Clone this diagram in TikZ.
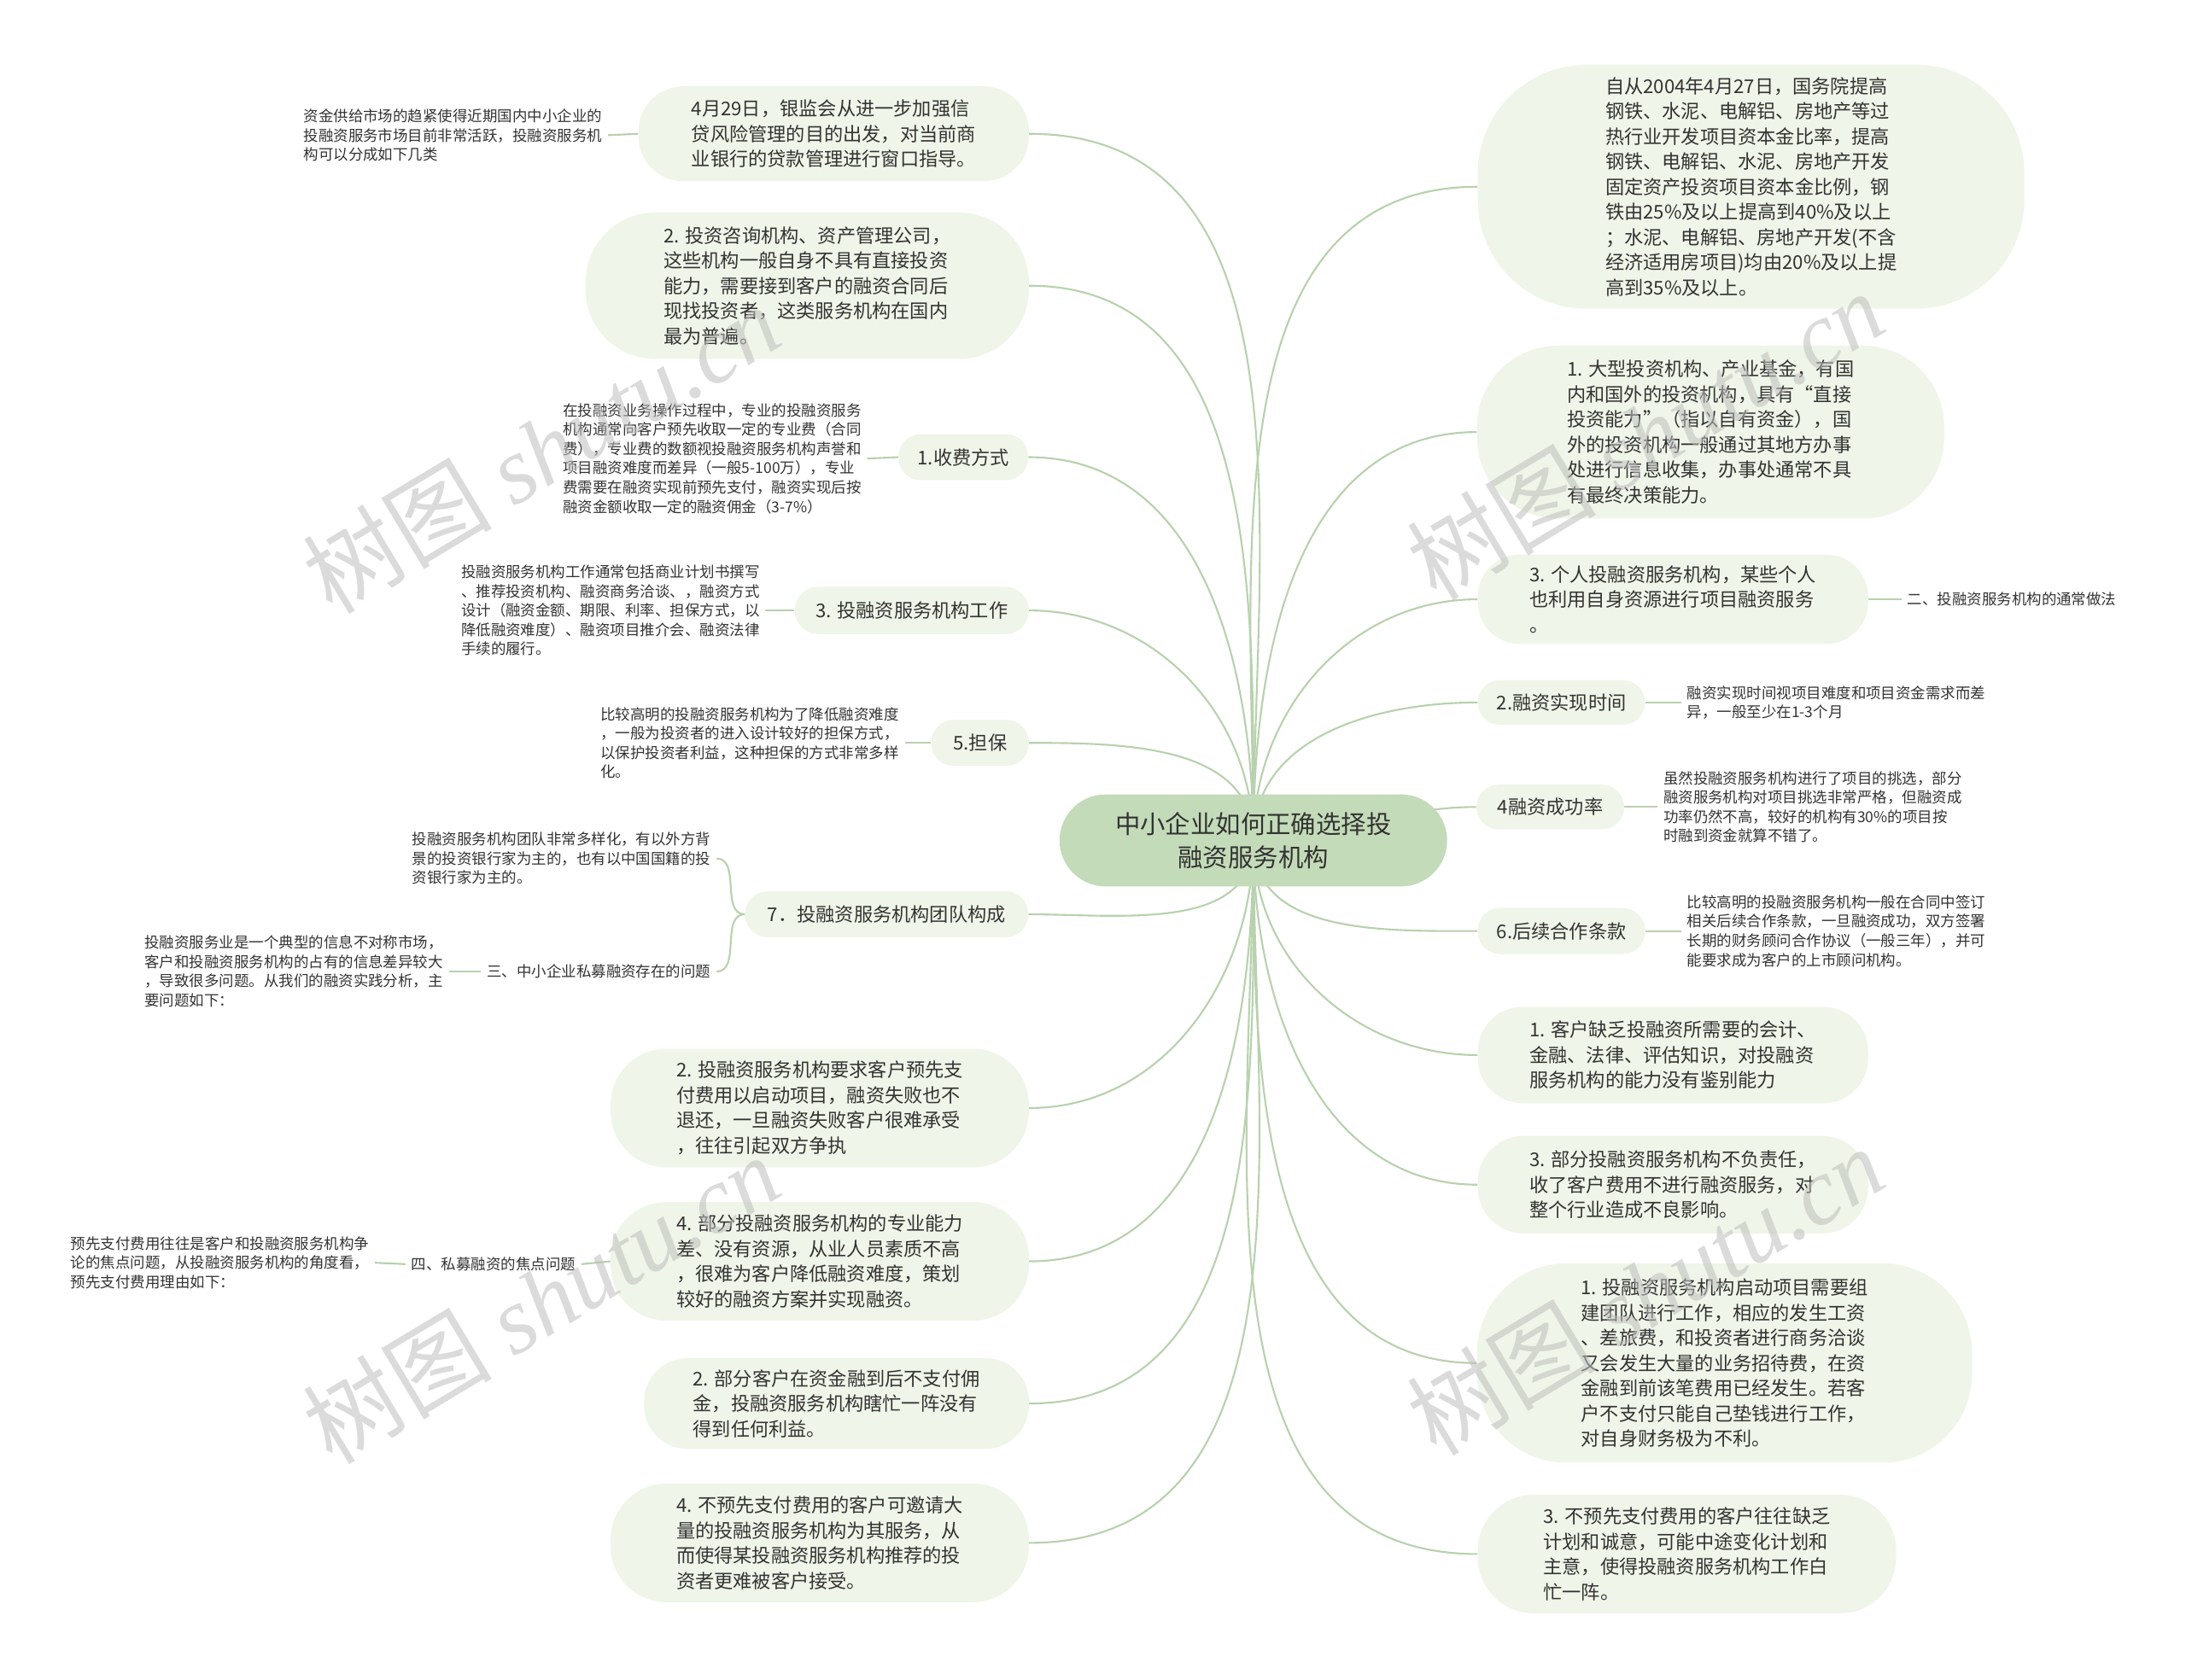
\documentclass[tikz,border=0pt]{standalone}
\usepackage{fontspec}
\setmainfont{Noto Sans CJK SC}
\newfontfamily\wmserif{Liberation Serif}
\newfontfamily\wmcjk{Noto Sans CJK SC}
\usetikzlibrary{backgrounds}
\definecolor{bubfill}{HTML}{EFF5E8}
\definecolor{ctrfill}{HTML}{C3DBB8}
\definecolor{linec}{HTML}{B8D1AE}
\definecolor{txt}{HTML}{333333}
\definecolor{wm}{HTML}{BEBEBE}
\newcommand\mainsz{\fontsize{13.6}{18.1}\selectfont}
\newcommand\smallsz{\fontsize{10.7}{13.8}\selectfont}
\newcommand\ctrsz{\fontsize{18}{24}\selectfont}
\newcommand\wmsz{\fontsize{68}{70}\selectfont}
\tikzset{
  bub/.style={fill=bubfill, align=left, font=\mainsz, text=txt, inner sep=0pt},
  ctr/.style={fill=ctrfill, align=center, font=\ctrsz, text=txt, inner sep=0pt,
    minimum width=278pt, minimum height=66pt, rounded corners=33pt},
  leaf/.style={align=left, font=\smallsz, text=txt, inner sep=4pt},
  link/.style={draw=linec, line width=1.3pt},
  wmk/.style={text=wm, opacity=0.55, rotate=31, font=\wmsz, inner sep=0pt}
}
\begin{document}
\begin{tikzpicture}[x=1pt,y=1pt]
\useasboundingbox (0,0) rectangle (1568,-1204.8);

% centre
\node[ctr] (c) at (899,-603) {中小企业如何正确选择投\\融资服务机构};

% right side
\node[bub, minimum width=392pt, minimum height=175pt, rounded corners=78pt] (r1) at (1256,-134) {自从2004年4月27日，国务院提高\\钢铁、水泥、电解铝、房地产等过\\热行业开发项目资本金比率，提高\\钢铁、电解铝、水泥、房地产开发\\固定资产投资项目资本金比例，钢\\铁由25\%及以上提高到40\%及以上\\；水泥、电解铝、房地产开发(不含\\经济适用房项目)均由20\%及以上提\\高到35\%及以上。};
\node[bub, minimum width=335pt, minimum height=124pt, rounded corners=58pt] (r2) at (1227,-310) {1. 大型投资机构、产业基金，有国\\内和国外的投资机构，具有“直接\\投资能力”（指以自有资金），国\\外的投资机构一般通过其地方办事\\处进行信息收集，办事处通常不具\\有最终决策能力。};
\node[bub, minimum width=280pt, minimum height=64pt, rounded corners=30pt] (r3) at (1200,-430) {3. 个人投融资服务机构，某些个人\\也利用自身资源进行项目融资服务\\。};
\node[bub, minimum width=120pt, minimum height=32pt, rounded corners=16pt] (r4) at (1120,-504) {2.融资实现时间};
\node[bub, minimum width=106pt, minimum height=32pt, rounded corners=16pt] (r5) at (1112,-579) {4融资成功率};
\node[bub, minimum width=120pt, minimum height=33pt, rounded corners=16pt] (r6) at (1120,-668) {6.后续合作条款};
\node[bub, minimum width=280pt, minimum height=69pt, rounded corners=32pt] (r7) at (1200,-757) {1. 客户缺乏投融资所需要的会计、\\金融、法律、评估知识，对投融资\\服务机构的能力没有鉴别能力};
\node[bub, minimum width=280pt, minimum height=70pt, rounded corners=33pt] (r8) at (1200,-850) {3. 部分投融资服务机构不负责任，\\收了客户费用不进行融资服务，对\\整个行业造成不良影响。};
\node[bub, minimum width=355pt, minimum height=143pt, rounded corners=64pt] (r9) at (1237,-978) {1. 投融资服务机构启动项目需要组\\建团队进行工作，相应的发生工资\\、差旅费，和投资者进行商务洽谈\\又会发生大量的业务招待费，在资\\金融到前该笔费用已经发生。若客\\户不支付只能自己垫钱进行工作，\\对自身财务极为不利。};
\node[bub, minimum width=300pt, minimum height=85pt, rounded corners=40pt] (r10) at (1210,-1115) {3. 不预先支付费用的客户往往缺乏\\计划和诚意，可能中途变化计划和\\主意，使得投融资服务机构工作白\\忙一阵。};

% right leaves
\node[leaf, anchor=west] (r3a) at (1364,-430) {二、投融资服务机构的通常做法};
\node[leaf, anchor=west] (r4a) at (1206,-504) {融资实现时间视项目难度和项目资金需求而差\\异，一般至少在1-3个月};
\node[leaf, anchor=west] (r5a) at (1189,-579) {虽然投融资服务机构进行了项目的挑选，部分\\融资服务机构对项目挑选非常严格，但融资成\\功率仍然不高，较好的机构有30\%的项目按\\时融到资金就算不错了。};
\node[leaf, anchor=west] (r6a) at (1206,-668) {比较高明的投融资服务机构一般在合同中签订\\相关后续合作条款，一旦融资成功，双方签署\\长期的财务顾问合作协议（一般三年），并可\\能要求成为客户的上市顾问机构。};

% left side
\node[bub, minimum width=280pt, minimum height=68pt, rounded corners=32pt] (l1) at (598,-96) {4月29日，银监会从进一步加强信\\贷风险管理的目的出发，对当前商\\业银行的贷款管理进行窗口指导。};
\node[bub, minimum width=318pt, minimum height=105pt, rounded corners=50pt] (l2) at (579,-205) {2. 投资咨询机构、资产管理公司，\\这些机构一般自身不具有直接投资\\能力，需要接到客户的融资合同后\\现找投资者，这类服务机构在国内\\最为普遍。};
\node[bub, minimum width=93pt, minimum height=33pt, rounded corners=16pt] (l3) at (691,-328) {1.收费方式};
\node[bub, minimum width=168pt, minimum height=34pt, rounded corners=17pt] (l4) at (654,-438) {3. 投融资服务机构工作};
\node[bub, minimum width=70pt, minimum height=33pt, rounded corners=16pt] (l5) at (703,-533) {5.担保};
\node[bub, minimum width=203pt, minimum height=33pt, rounded corners=16pt] (l6) at (636,-656) {7．投融资服务机构团队构成};
\node[bub, minimum width=300pt, minimum height=85pt, rounded corners=40pt] (l7) at (588,-795) {2. 投融资服务机构要求客户预先支\\付费用以启动项目，融资失败也不\\退还，一旦融资失败客户很难承受\\，往往引起双方争执};
\node[bub, minimum width=300pt, minimum height=85pt, rounded corners=40pt] (l8) at (588,-905) {4. 部分投融资服务机构的专业能力\\差、没有资源，从业人员素质不高\\，很难为客户降低融资难度，策划\\较好的融资方案并实现融资。};
\node[bub, minimum width=276pt, minimum height=65pt, rounded corners=31pt] (l9) at (600,-1007) {2. 部分客户在资金融到后不支付佣\\金，投融资服务机构瞎忙一阵没有\\得到任何利益。};
\node[bub, minimum width=300pt, minimum height=85pt, rounded corners=40pt] (l10) at (588,-1107) {4. 不预先支付费用的客户可邀请大\\量的投融资服务机构为其服务，从\\而使得某投融资服务机构推荐的投\\资者更难被客户接受。};

% left leaves
\node[leaf, anchor=east] (l1a) at (436,-97) {资金供给市场的趋紧使得近期国内中小企业的\\投融资服务市场目前非常活跃，投融资服务机\\构可以分成如下几类};
\node[leaf, anchor=east] (l3a) at (622,-329) {在投融资业务操作过程中，专业的投融资服务\\机构通常向客户预先收取一定的专业费（合同\\费），专业费的数额视投融资服务机构声誉和\\项目融资难度而差异（一般5-100万），专业\\费需要在融资实现前预先支付，融资实现后按\\融资金额收取一定的融资佣金（3-7\%）};
\node[leaf, anchor=east] (l4a) at (549,-438) {投融资服务机构工作通常包括商业计划书撰写\\、推荐投资机构、融资商务洽谈、，融资方式\\设计（融资金额、期限、利率、担保方式，以\\降低融资难度）、融资项目推介会、融资法律\\手续的履行。};
\node[leaf, anchor=east] (l5a) at (649,-533) {比较高明的投融资服务机构为了降低融资难度\\，一般为投资者的进入设计较好的担保方式，\\以保护投资者利益，这种担保的方式非常多样\\化。};
\node[leaf, anchor=east] (l6a) at (514,-616) {投融资服务机构团队非常多样化，有以外方背\\景的投资银行家为主的，也有以中国国籍的投\\资银行家为主的。};
\node[leaf, anchor=east] (l6b) at (514,-697) {三、中小企业私募融资存在的问题};
\node[leaf, anchor=east] (l6c) at (322,-697) {投融资服务业是一个典型的信息不对称市场，\\客户和投融资服务机构的占有的信息差异较大\\，导致很多问题。从我们的融资实践分析，主\\要问题如下：};
\node[leaf, anchor=east] (l8a) at (417,-907) {四、私募融资的焦点问题};
\node[leaf, anchor=east] (l8b) at (269,-906) {预先支付费用往往是客户和投融资服务机构争\\论的焦点问题，从投融资服务机构的角度看，\\预先支付费用理由如下：};

% connectors
\begin{pgfonlayer}{background}
\fill[white] (0,0) rectangle (1568,-1204.8);
\draw[link] (c.center) to[out=90,in=180] (r1.west);
\draw[link] (c.center) to[out=90,in=180] (r2.west);
\draw[link] (c.center) to[out=90,in=180] (r3.west);
\draw[link] (c.center) to[out=90,in=180] (r4.west);
\draw[link] (c.center) to[out=0,in=180] (r5.west);
\draw[link] (c.center) to[out=-90,in=180] (r6.west);
\draw[link] (c.center) to[out=-90,in=180] (r7.west);
\draw[link] (c.center) to[out=-90,in=180] (r8.west);
\draw[link] (c.center) to[out=-90,in=180] (r9.west);
\draw[link] (c.center) to[out=-90,in=180] (r10.west);
\draw[link] (c.center) to[out=90,in=0] (l1.east);
\draw[link] (c.center) to[out=90,in=0] (l2.east);
\draw[link] (c.center) to[out=90,in=0] (l3.east);
\draw[link] (c.center) to[out=90,in=0] (l4.east);
\draw[link] (c.center) to[out=90,in=0] (l5.east);
\draw[link] (c.center) to[out=-90,in=0] (l6.east);
\draw[link] (c.center) to[out=-90,in=0] (l7.east);
\draw[link] (c.center) to[out=-90,in=0] (l8.east);
\draw[link] (c.center) to[out=-90,in=0] (l9.east);
\draw[link] (c.center) to[out=-90,in=0] (l10.east);
\draw[link] (r3.east) -- (r3a.west);
\draw[link] (r4.east) -- (r4a.west);
\draw[link] (r5.east) -- (r5a.west);
\draw[link] (r6.east) -- (r6a.west);
\draw[link] (l1.west) -- (l1a.east);
\draw[link] (l3.west) -- (l3a.east);
\draw[link] (l4.west) -- (l4a.east);
\draw[link] (l5.west) -- (l5a.east);
\draw[link] (l6.west) to[out=180,in=0] (l6a.east);
\draw[link] (l6.west) to[out=180,in=0] (l6b.east);
\draw[link] (l6b.west) -- (l6c.east);
\draw[link] (l8.west) -- (l8a.east);
\draw[link] (l8a.west) -- (l8b.east);
\end{pgfonlayer}

% watermarks
\node[wmk] (w1) at (388,-322) {{\wmcjk 树图} {\wmserif\itshape shutu.cn}};
\node[wmk] (w2) at (1180,-312) {{\wmcjk 树图} {\wmserif\itshape shutu.cn}};
\node[wmk] (w3) at (388,-932) {{\wmcjk 树图} {\wmserif\itshape shutu.cn}};
\node[wmk] (w4) at (1180,-926) {{\wmcjk 树图} {\wmserif\itshape shutu.cn}};
\end{tikzpicture}
\end{document}
